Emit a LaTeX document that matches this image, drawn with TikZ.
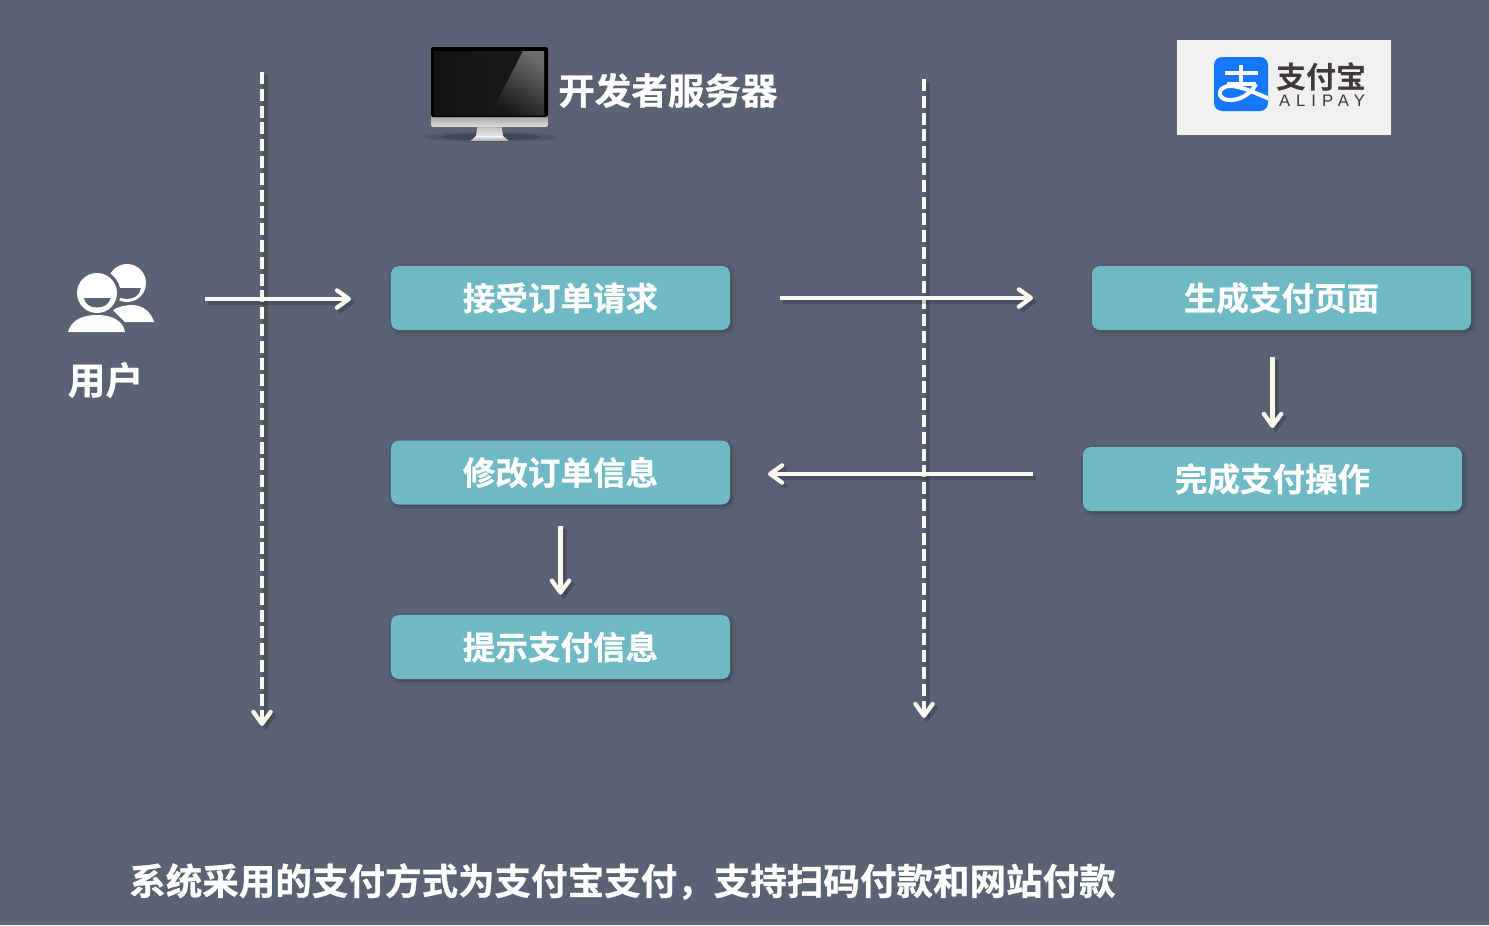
\documentclass[tikz,border=0pt]{standalone}
\usepackage{fontspec}
\usetikzlibrary{arrows.meta,shadows.blur}
\setmainfont{Noto Sans CJK SC}
\newfontfamily\cjkb{Noto Sans CJK SC Bold}[FakeBold=0.8]
\newfontfamily\cjklogo{Noto Sans CJK SC Bold}
\newfontfamily\latinb{Liberation Sans}[LetterSpace=36]
\definecolor{bgc}{HTML}{5A6374}
\definecolor{boxc}{HTML}{6FB9C4}
\definecolor{linec}{HTML}{FBF8F1}
\definecolor{alibg}{HTML}{F0F0F0}
\definecolor{aliblue}{HTML}{1677FF}
\definecolor{alitext}{HTML}{3F3A39}
\newcommand{\boxtext}[1]{\raisebox{-1pt}{#1}}
\tikzset{
  stepbox/.style={fill=boxc,rounded corners=6pt,minimum width=254.25pt,minimum height=48pt,inner sep=0pt,
    text=white,font=\cjkb\fontsize{24.4}{26}\selectfont,
    blur shadow={shadow xshift=1.5pt,shadow yshift=-1.5pt,shadow blur steps=6,shadow blur radius=2.5pt,shadow opacity=30}},
  widebox/.style={stepbox,minimum width=284.25pt},
  lbl/.style={text=white,font=\cjkb\fontsize{27.4}{30}\selectfont,inner sep=0pt},
  flow/.style={draw=linec,line width=3.2pt,-{Straight Barb[length=9pt,width=13pt,line width=3.2pt,round]},
    preaction={draw=black,draw opacity=.18,line width=4pt,transform canvas={xshift=2.5pt,yshift=-2.5pt}}},
  life/.style={flow,dash pattern=on 9pt off 3.6pt}
}
\begin{document}
\begin{tikzpicture}[x=0.75pt,y=-0.75pt]
\fill[bgc] (0,0) rectangle (1489,925);
\useasboundingbox (0,0) rectangle (1489,925);

% monitor
\fill[black,opacity=.10] (490,137) ellipse (66 and 5);
\fill[black,opacity=.18] (490,137) ellipse (50 and 3.5);
\fill[top color=white!55!gray,bottom color=white!80!gray] (477,127) -- (502,127) -- (503,136) -- (476,136) -- cycle;
\fill[top color=white!90!gray,bottom color=gray!70] (476,136) -- (503,136) -- (509,141) -- (470,141) -- cycle;
\fill[top color=gray!90,bottom color=white!75!gray,rounded corners=1.2pt] (431,112) rectangle (548,127);
\fill[black,rounded corners=1.2pt] (431,47) rectangle (548,117);
\fill[left color=black!93,right color=black!90] (434,51) rectangle (544,115);
\shade[top color=black!58,bottom color=black!91,shading angle=-30] (523,51) -- (544,51) -- (544,115) -- (490,115) -- cycle;

\node[lbl,anchor=west] (server) at (558,90.5) {开发者服务器};

% alipay
\node[fill=alibg,minimum width=160.5pt,minimum height=71.25pt,inner sep=0pt] (alibox) at (1284,87.5) {};
\fill[aliblue,rounded corners=6pt] (1214,57) rectangle (1268,111);
\begin{scope}
\clip[rounded corners=6pt] (1214,57) rectangle (1268,111);
\draw[white,line width=2.6pt] (1225,73) -- (1258,73) (1241,65) -- (1241,84) (1227,84) -- (1256,84);
\draw[white,line width=3pt] (1256,84) .. controls (1248,99) and (1232,102) .. (1224,99)
  .. controls (1216,95) and (1220,86) .. (1230,86) .. controls (1241,86) and (1255,93) .. (1270,99);
\end{scope}
\node[text=alitext,font=\cjklogo\fontsize{22.5}{24}\selectfont,inner sep=0pt] (alitxt) at (1321,77) {支付宝};
\node[text=alitext,font=\latinb\fontsize{12.5}{14}\selectfont,inner sep=0pt] (alien) at (1322,101) {ALIPAY};

% user icon: back figure
\fill[white] (127,283) circle (19);
\fill[bgc] (112,288) -- (141,288) .. controls (140,295) and (134,299) .. (127,299) .. controls (120,299) and (113,295) .. (112,288) -- cycle;
\fill[white] (113,310) .. controls (120,306) and (126,305) .. (133,305) .. controls (144,306) and (151,312) .. (154,322) -- (125,322) -- cycle;
% front figure with gap
\fill[bgc] (97,293) circle (23.5);
\fill[bgc] (64,335) .. controls (68,320) and (80,312) .. (97,312) .. controls (114,312) and (126,320) .. (129,335) -- cycle;
\fill[white] (97,293) circle (20);
\fill[bgc] (84,298) -- (110.5,298) .. controls (109.5,304) and (104,307.5) .. (97,307.5) .. controls (90,307.5) and (85,304) .. (84,298) -- cycle;
\fill[white] (68,332) .. controls (71,321) and (81,315) .. (97,315) .. controls (113,315) and (123,321) .. (125,332) -- cycle;
\node[lbl,font=\cjkb\fontsize{28.2}{30}\selectfont,anchor=center] (user) at (105.5,380) {用户};

% boxes
\node[stepbox] (accept) at (560.5,298) {\boxtext{接受订单请求}};
\node[stepbox] (modify) at (560.5,472.5) {\boxtext{修改订单信息}};
\node[stepbox] (notice) at (560.5,647) {\boxtext{提示支付信息}};
\node[widebox] (create) at (1281.5,298) {\boxtext{生成支付页面}};
\node[widebox] (finish) at (1272.5,479) {\boxtext{完成支付操作}};

% free ends
\coordinate (life1a) at (262,72);
\coordinate (life1b) at (262,726);
\coordinate (life2a) at (924,79);
\coordinate (life2b) at (924,718);
\coordinate (userout) at (205,299);
\coordinate (acceptin) at (351,299);
\coordinate (backa) at (1033,474);
\coordinate (backb) at (768,474);

% connectors
\draw[life] (life1a) -- (life1b);
\draw[life] (life2a) -- (life2b);
\draw[flow] (userout) -- (acceptin);
\draw[flow,shorten <=37pt,shorten >=44pt] (accept.east) -- (create.west);
\draw[flow,shorten <=20pt,shorten >=14pt] (finish.north |- create.south) -- (finish.north);
\draw[flow] (backa) -- (backb);
\draw[flow,shorten <=16pt,shorten >=15pt] (modify.south) -- (notice.north);

\node[lbl,anchor=west] (note) at (129,881.5) {系统采用的支付方式为支付宝支付，支持扫码付款和网站付款};
\end{tikzpicture}
\end{document}
